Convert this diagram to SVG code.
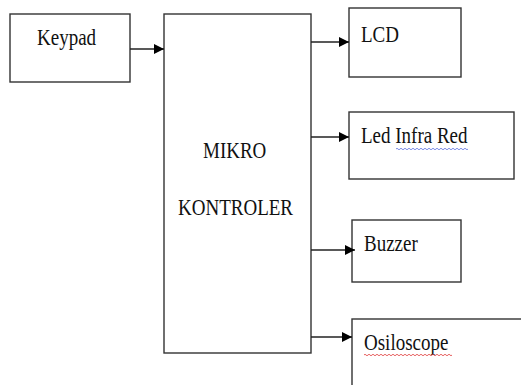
<svg xmlns="http://www.w3.org/2000/svg" width="521" height="385" viewBox="0 0 521 385">
<style>
.box{fill:#fff;stroke:#333;stroke-width:1.4}
.t{font-family:'Liberation Serif',serif;font-size:19px;fill:#111}
.c{stroke:#222;stroke-width:1.4;fill:none}
</style>
<defs>
<marker id="ah" viewBox="0 0 10 10" refX="10" refY="5" markerWidth="10" markerHeight="10" markerUnits="userSpaceOnUse" orient="auto">
<path d="M0,0 L10,5 L0,10 z" fill="#000"/>
</marker>
</defs>
<rect width="521" height="385" fill="#fff"/>
<g id="keypad"><rect class="box" x="10" y="14" width="120" height="68"/><text class="t" font-family="Liberation Serif" transform="translate(37,45) scale(1,1.25)">Keypad</text></g>
<g id="mikro"><rect class="box" x="164" y="14" width="147" height="339"/><text class="t" font-family="Liberation Serif" transform="translate(203,158) scale(1,1.25)">MIKRO</text><text class="t" font-family="Liberation Serif" transform="translate(178,215) scale(1,1.25)">KONTROLER</text></g>
<g id="lcd"><rect class="box" x="349" y="8" width="112" height="69"/><text class="t" font-family="Liberation Serif" transform="translate(361,42) scale(1,1.25)">LCD</text></g>
<g id="led"><rect class="box" x="349" y="112" width="165" height="67"/><text class="t" font-family="Liberation Serif" transform="translate(361,143) scale(1,1.25)">Led Infra Red</text><path d="M396,149 q1,-1.5 2,0 t2,0 t2,0 t2,0 t2,0 t2,0 t2,0 t2,0 t2,0 t2,0 t2,0 t2,0 t2,0 t2,0 t2,0 t2,0 t2,0 t2,0 t2,0 t2,0 t2,0 t2,0 t2,0 t2,0 t2,0 t2,0 t2,0 t2,0 t2,0 t2,0 t2,0 t2,0 t2,0 t2,0 t2,0 t2,0" stroke="#5a6ee0" stroke-width="0.8" fill="none"/></g>
<g id="buzzer"><rect class="box" x="352" y="220" width="109" height="62"/><text class="t" font-family="Liberation Serif" transform="translate(364,251) scale(1,1.25)">Buzzer</text></g>
<g id="osiloscope"><rect class="box" x="352" y="319" width="180" height="80"/><text class="t" font-family="Liberation Serif" transform="translate(364,350) scale(1,1.25)">Osiloscope</text><path d="M364,355 q1,-1.5 2,0 t2,0 t2,0 t2,0 t2,0 t2,0 t2,0 t2,0 t2,0 t2,0 t2,0 t2,0 t2,0 t2,0 t2,0 t2,0 t2,0 t2,0 t2,0 t2,0 t2,0 t2,0 t2,0 t2,0 t2,0 t2,0 t2,0 t2,0 t2,0 t2,0 t2,0 t2,0 t2,0 t2,0 t2,0 t2,0 t2,0 t2,0 t2,0 t2,0 t2,0 t2,0 t2,0 t2,0" stroke="#e03a3a" stroke-width="0.8" fill="none"/></g>
<g id="connectors">
<line class="c" x1="130" y1="49" x2="164" y2="49" marker-end="url(#ah)"/>
<line class="c" x1="311" y1="42" x2="349" y2="42" marker-end="url(#ah)"/>
<line class="c" x1="311" y1="137" x2="349" y2="137" marker-end="url(#ah)"/>
<line class="c" x1="311" y1="250" x2="355" y2="250" marker-end="url(#ah)"/>
<line class="c" x1="311" y1="337" x2="352" y2="337" marker-end="url(#ah)"/>
</g>
</svg>
